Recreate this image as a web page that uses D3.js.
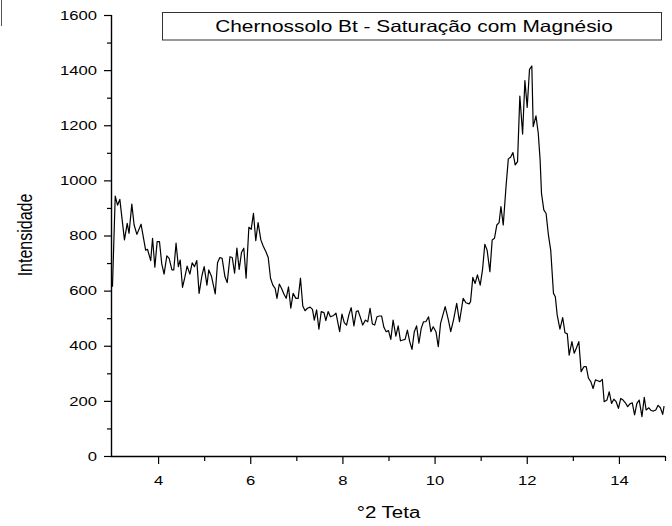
<!DOCTYPE html>
<html>
<head>
<meta charset="utf-8">
<script src="https://cdn.jsdelivr.net/npm/d3@7/dist/d3.min.js"></script>
<style>
  html, body { margin: 0; padding: 0; background: #fff; }
  svg { display: block; font-family: "Liberation Sans", Arial, sans-serif; }
</style>
</head>
<body>
<svg id="chart" width="672" height="526"></svg>
<script>
// ---- data ----
const title = "Chernossolo Bt - Saturação com Magnésio";
const xLabel = "°2 Teta";
const yLabel = "Intensidade";
const xMajorTicks = [4, 6, 8, 10, 12, 14];
const xMinorTicks = [5, 7, 9, 11, 13, 15];
const yMajorTicks = [0, 200, 400, 600, 800, 1000, 1200, 1400, 1600];
const yMinorTicks = [100, 300, 500, 700, 900, 1100, 1300, 1500];

const theta = [
  3.01,3.07,3.12,3.17,3.27,3.33,3.37,3.43,3.48,3.54,3.63,3.73,3.77,3.84,3.88,3.93,3.98,4.03,4.08,4.13,
  4.19,4.24,4.30,4.34,4.39,4.44,4.48,4.53,4.58,4.63,4.69,4.74,4.79,4.84,4.89,4.95,5.00,5.06,5.10,5.16,
  5.24,5.29,5.34,5.39,5.45,5.50,5.56,5.61,5.66,5.71,5.76,5.81,5.86,5.91,5.97,6.02,6.07,6.12,6.17,6.23,
  6.28,6.34,6.39,6.44,6.49,6.54,6.58,6.63,6.68,6.73,6.78,6.83,6.88,6.93,6.99,7.04,7.09,7.14,7.19,7.24,
  7.30,7.35,7.39,7.44,7.49,7.54,7.60,7.64,7.69,7.74,7.81,7.86,7.94,7.99,8.04,8.09,8.14,8.19,8.25,8.30,
  8.34,8.39,8.44,8.50,8.55,8.60,8.65,8.70,8.75,8.80,8.85,8.90,8.95,9.00,9.05,9.10,9.16,9.21,9.26,9.31,
  9.36,9.41,9.46,9.51,9.56,9.61,9.66,9.71,9.76,9.81,9.87,9.92,9.97,10.03,10.08,10.13,10.23,10.30,10.35,10.41,
  10.48,10.54,10.62,10.68,10.75,10.78,10.83,10.88,10.93,10.99,11.04,11.09,11.14,11.20,11.25,11.30,11.35,11.40,11.44,11.49,
  11.55,11.60,11.65,11.70,11.75,11.80,11.85,11.91,11.96,12.01,12.06,12.11,12.14,12.20,12.25,12.29,12.32,12.37,12.42,12.47,
  12.52,12.58,12.62,12.66,12.72,12.78,12.83,12.88,12.92,12.98,13.03,13.08,13.13,13.18,13.24,13.29,13.34,13.39,13.44,13.49,
  13.54,13.59,13.64,13.68,13.74,13.79,13.84,13.89,13.94,13.99,14.04,14.09,14.14,14.19,14.24,14.29,14.34,14.39,14.44,14.50,
  14.55,14.59,14.65,14.70,14.75,14.80,14.85,14.90,14.95,14.98
];
const intensity = [
  614,943,910,931,784,844,808,914,838,804,841,747,750,709,790,685,778,778,697,660,
  726,717,675,675,772,687,711,612,648,689,660,701,687,709,590,653,687,620,675,651,
  588,701,720,717,651,629,723,720,663,754,677,738,754,645,830,822,880,781,847,784,
  762,741,720,645,620,608,572,624,608,588,572,614,536,590,572,572,645,544,527,536,
  540,532,493,530,460,524,520,491,524,505,510,518,451,515,484,475,512,538,472,524,
  527,503,475,493,487,536,479,475,505,508,508,467,451,455,423,493,435,472,418,421,
  423,457,415,387,451,472,409,463,487,487,505,451,469,451,397,481,542,493,451,493,
  554,487,572,556,552,560,648,626,657,620,675,768,747,669,784,790,838,847,905,838,
  977,1078,1084,1101,1056,1068,1306,1168,1362,1265,1403,1415,1195,1234,1171,1074,953,893,880,802,
  747,590,578,512,460,502,447,443,366,415,373,393,415,306,324,324,282,270,245,276,
  273,270,278,197,203,233,191,206,197,173,209,203,193,179,189,193,149,191,203,143,
  213,167,175,165,163,167,184,175,151,181
];

// ---- layout ----
const svg = d3.select("#chart");
const mLeft = 112, mRight = 665, mTop = 15, mBottom = 456;
const SX = 1.28; // the reference text is horizontally stretched

const x = d3.scaleLinear().domain([3, 15]).range([mLeft, mRight]);
const y = d3.scaleLinear().domain([0, 1600]).range([mBottom, mTop]);

// small frame fragment in the top-left corner
svg.append("line").attr("x1", 1.5).attr("x2", 1.5).attr("y1", 0).attr("y2", 26)
  .attr("stroke", "#555").attr("stroke-width", 1);

// y axis
const yAxis = d3.axisLeft(y).tickValues(yMajorTicks).tickSize(8).tickPadding(6).tickFormat(d3.format("d"));
const gy = svg.append("g").attr("transform", `translate(${mLeft},0)`).call(yAxis);
gy.select(".domain").attr("d", `M-0.5,${mBottom}V${mTop}`).attr("stroke", "#000").attr("stroke-width", 1.4);
gy.selectAll(".tick line").attr("stroke", "#000").attr("stroke-width", 1.2);
gy.selectAll(".tick text").attr("font-size", 13).attr("fill", "#000")
  .attr("font-family", "'Liberation Sans', Arial, sans-serif")
  .attr("x", -15 / SX).attr("transform", `scale(${SX},1)`);
const gyMinor = svg.append("g").attr("transform", `translate(${mLeft},0)`)
  .call(d3.axisLeft(y).tickValues(yMinorTicks).tickSize(5).tickFormat(""));
gyMinor.select(".domain").remove();
gyMinor.selectAll(".tick line").attr("stroke", "#000").attr("stroke-width", 1.2);

// x axis
const xAxis = d3.axisBottom(x).tickValues(xMajorTicks).tickSize(8).tickPadding(12).tickFormat(d3.format("d"));
const gx = svg.append("g").attr("transform", `translate(0,${mBottom})`).call(xAxis);
gx.select(".domain").attr("d", `M${mLeft - 1},0.5H${mRight}`).attr("stroke", "#000").attr("stroke-width", 1.4);
gx.selectAll(".tick line").attr("stroke", "#000").attr("stroke-width", 1.2);
gx.selectAll(".tick text").attr("font-size", 13).attr("fill", "#000")
  .attr("font-family", "'Liberation Sans', Arial, sans-serif")
  .attr("transform", `scale(${SX},1)`);
const gxMinor = svg.append("g").attr("transform", `translate(0,${mBottom})`)
  .call(d3.axisBottom(x).tickValues(xMinorTicks).tickSize(5).tickFormat(""));
gxMinor.select(".domain").remove();
gxMinor.selectAll(".tick line").attr("stroke", "#000").attr("stroke-width", 1.2);

// axis titles
svg.append("text").attr("transform", `translate(${(mLeft + mRight) / 2},518) scale(${SX},1)`)
  .attr("text-anchor", "middle").attr("font-size", 16).attr("fill", "#000").text(xLabel);
svg.append("text").attr("transform", `translate(32,235) rotate(-90) scale(1,${SX})`)
  .attr("text-anchor", "middle").attr("font-size", 16).attr("fill", "#000").text(yLabel);

// data line
const pts = theta.map((t, i) => [t, intensity[i]]);
svg.append("path").datum(pts)
  .attr("fill", "none").attr("stroke", "#000").attr("stroke-width", 1.2).attr("stroke-linejoin", "round")
  .attr("d", d3.line().x(d => x(d[0])).y(d => y(d[1])));

// title box
svg.append("rect").attr("x", 162.5).attr("y", 12.5).attr("width", 499).attr("height", 27.5)
  .attr("fill", "#fff").attr("stroke", "#333").attr("stroke-width", 1);
svg.append("text").attr("transform", `translate(414,32) scale(${SX},1)`).attr("text-anchor", "middle")
  .attr("font-size", 16.3).attr("fill", "#000").text(title);
</script>
</body>
</html>
